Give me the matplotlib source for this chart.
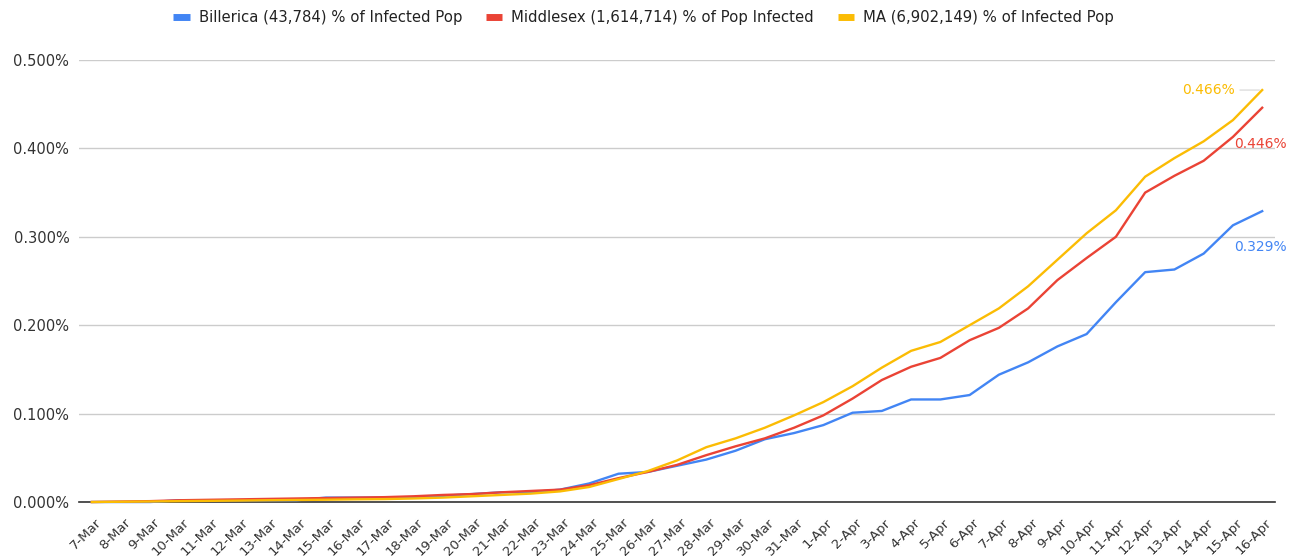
import matplotlib
matplotlib.use("Agg")
import matplotlib.pyplot as plt
import matplotlib.transforms as mtransforms
from matplotlib.lines import Line2D

dates = ["7-Mar", "8-Mar", "9-Mar", "10-Mar", "11-Mar", "12-Mar", "13-Mar", "14-Mar",
         "15-Mar", "16-Mar", "17-Mar", "18-Mar", "19-Mar", "20-Mar", "21-Mar", "22-Mar",
         "23-Mar", "24-Mar", "25-Mar", "26-Mar", "27-Mar", "28-Mar", "29-Mar", "30-Mar",
         "31-Mar", "1-Apr", "2-Apr", "3-Apr", "4-Apr", "5-Apr", "6-Apr", "7-Apr", "8-Apr",
         "9-Apr", "10-Apr", "11-Apr", "12-Apr", "13-Apr", "14-Apr", "15-Apr", "16-Apr"]

# % of population infected
billerica = [0.000, 0.000, 0.000, 0.002, 0.002, 0.002, 0.002, 0.002, 0.005, 0.005,
             0.005, 0.005, 0.007, 0.009, 0.011, 0.011, 0.014, 0.021, 0.032, 0.034,
             0.041, 0.048, 0.058, 0.071, 0.078,
             0.087, 0.101, 0.103, 0.116, 0.116, 0.121, 0.144, 0.158, 0.176, 0.190,
             0.226, 0.260, 0.263, 0.281, 0.313, 0.329]
middlesex = [0.000, 0.0005, 0.001, 0.002, 0.0025, 0.003, 0.0035, 0.004, 0.0045, 0.005,
             0.0055, 0.0065, 0.008, 0.009, 0.011, 0.0125, 0.014, 0.019, 0.027, 0.034,
             0.042, 0.053, 0.063, 0.072, 0.084,
             0.098, 0.117, 0.138, 0.153, 0.163, 0.183, 0.197, 0.219, 0.251, 0.276,
             0.300, 0.350, 0.369, 0.386, 0.413, 0.446]
ma = [0.000, 0.0003, 0.0006, 0.001, 0.0013, 0.0016, 0.002, 0.0023, 0.0026, 0.003,
      0.0033, 0.004, 0.005, 0.0065, 0.008, 0.0095, 0.012, 0.017, 0.026, 0.035,
      0.047, 0.062, 0.072, 0.084, 0.098,
      0.113, 0.131, 0.152, 0.171, 0.181, 0.200, 0.219, 0.244, 0.274, 0.304,
      0.330, 0.368, 0.389, 0.408, 0.432, 0.466]

names = ["Billerica (43,784) % of Infected Pop",
         "Middlesex (1,614,714) % of Pop Infected",
         "MA (6,902,149) % of Infected Pop"]
colors = ["#4285F4", "#EA4335", "#FBBC04"]
yticks = [0.0, 0.1, 0.2, 0.3, 0.4, 0.5]

plt.rcParams["font.family"] = "DejaVu Sans"

fig = plt.figure(figsize=(12.95, 5.56), dpi=100)
ax = fig.add_axes([0.061, 0.0971, 0.9236, 0.795])

x = list(range(len(dates)))
for vals, c in zip([billerica, middlesex, ma], colors):
    ax.plot(x, vals, color=c, lw=1.7, solid_joinstyle="round", clip_on=False, zorder=3)

ax.set_ylim(0, 0.5)
ax.set_xlim(-0.44, len(dates) - 1 + 0.44)
ax.set_yticks(yticks)
ax.set_yticklabels(["%.3f%%" % v for v in yticks], fontsize=10.5, color="#333333")
ax.set_xticks(x)
ax.set_xticklabels(dates, rotation=45, ha="right", va="top", rotation_mode="anchor",
                   fontsize=9.5, color="#333333")
ax.tick_params(axis="y", length=0, pad=7)
ax.tick_params(axis="x", length=0, pad=10)
shift = mtransforms.ScaledTranslation(0.03, 0, fig.dpi_scale_trans)
for lbl in ax.get_xticklabels():
    lbl.set_transform(lbl.get_transform() + shift)
ax.grid(axis="y", color="#cccccc", lw=1)
for s in ["top", "right", "left"]:
    ax.spines[s].set_visible(False)
ax.spines["bottom"].set_color("#333333")
ax.spines["bottom"].set_linewidth(1.2)
ax.set_axisbelow(True)

# end-of-line labels with faint leader lines
last = len(dates) - 1
lead = dict(arrowstyle="-", color="#dddddd", lw=1, shrinkA=2, shrinkB=2)
ax.annotate("%.3f%%" % ma[-1], (last, ma[-1]), xytext=(-20, 0), textcoords="offset points",
            ha="right", va="center", color=colors[2], fontsize=10, arrowprops=lead)
ax.annotate("%.3f%%" % middlesex[-1], (last, middlesex[-1]), xytext=(18, -26),
            textcoords="offset points", ha="right", va="center", color=colors[1],
            fontsize=10)
ax.annotate("%.3f%%" % billerica[-1], (last, billerica[-1]), xytext=(18, -26),
            textcoords="offset points", ha="right", va="center", color=colors[0],
            fontsize=10)

handles = [Line2D([], [], ls="-", lw=5, color=c, solid_capstyle="butt") for c in colors]
fig.legend(handles, names, loc="center", bbox_to_anchor=(0.497, 0.968), ncol=3,
           frameon=False, fontsize=10.7, handlelength=1.1, handletextpad=0.6,
           columnspacing=1.6, labelcolor="#222222")

fig.savefig("out.png", dpi=100, facecolor="white")
